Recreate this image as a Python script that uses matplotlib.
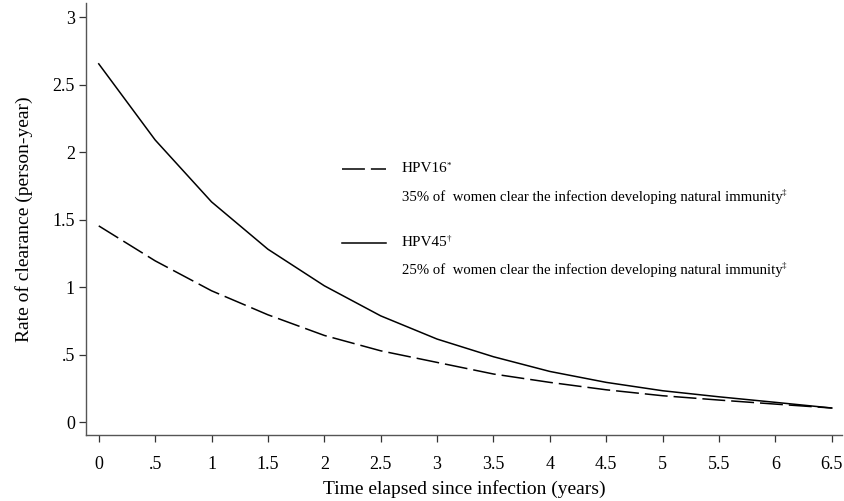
import matplotlib
matplotlib.use("Agg")
import matplotlib.pyplot as plt
from matplotlib.lines import Line2D

years = [0, 0.5, 1, 1.5, 2, 2.5, 3, 3.5, 4, 4.5, 5, 5.5, 6, 6.5]
hpv16 = [1.454, 1.195, 0.973, 0.795, 0.642, 0.528, 0.442, 0.356, 0.294, 0.239, 0.195, 0.163, 0.133, 0.104]
hpv45 = [2.655, 2.091, 1.632, 1.281, 1.010, 0.787, 0.615, 0.484, 0.375, 0.294, 0.232, 0.187, 0.146, 0.104]
xticks = [0, 0.5, 1, 1.5, 2, 2.5, 3, 3.5, 4, 4.5, 5, 5.5, 6, 6.5]
xticklabels = ["0", ".5", "1", "1.5", "2", "2.5", "3", "3.5", "4", "4.5", "5", "5.5", "6", "6.5"]
yticks = [0, 0.5, 1, 1.5, 2, 2.5, 3]
yticklabels = ["0", ".5", "1", "1.5", "2", "2.5", "3"]

plt.rcParams['font.family'] = ['Liberation Serif', 'DejaVu Serif']
plt.rcParams['lines.scale_dashes'] = False

W, H = 844, 501
fig = plt.figure(figsize=(W / 100, H / 100), dpi=100)
ax = fig.add_axes([86 / W, 1 - 435 / H, (842 - 86) / W, (435 - 3) / H])

ax.plot(years, hpv16, color='black', lw=1.1, dashes=(16.5, 4.3))
ax.plot(years, hpv45, color='black', lw=1.1)

ax.set_xlim(-0.113, 6.59)
ax.set_ylim(-0.096, 3.106)
ax.set_xticks(xticks)
ax.set_xticklabels(xticklabels)
ax.set_yticks(yticks)
ax.set_yticklabels(yticklabels)
for s in ['top', 'right']:
    ax.spines[s].set_visible(False)
for s in ['left', 'bottom']:
    ax.spines[s].set_color('#555555')
    ax.spines[s].set_linewidth(1.0)
ax.tick_params(axis='x', direction='out', length=5, width=0.9, color='#333333', labelsize=13, pad=10)
ax.tick_params(axis='y', direction='out', length=5, width=0.9, color='#333333', labelsize=13, pad=3)
ax.set_xlabel('Time elapsed since infection (years)', fontsize=14, labelpad=5)
ax.set_ylabel('Rate of clearance (person-year)', fontsize=14, labelpad=14)

def fx(px):
    return px / W

def fy(py):
    return 1 - py / H

fig.add_artist(Line2D([fx(342), fx(386)], [fy(169), fy(169)], color='black', lw=1.1, dashes=(16.5, 4.3)))
fig.add_artist(Line2D([fx(342), fx(386)], [fy(243), fy(243)], color='black', lw=1.1))

fig.canvas.draw()
renderer = fig.canvas.get_renderer()

def text_with_sup(x, y, main, sup, size, supsize):
    t = fig.text(fx(x), fy(y), main, fontsize=size, va='center', ha='left')
    bb = t.get_window_extent(renderer)
    fig.text((bb.x1 - 1) / W, (bb.y1 + 1) / H, sup, fontsize=supsize, va='top', ha='left')

text_with_sup(402, 169, 'HPV16', '*', 11, 6.5)
text_with_sup(402, 197, '35% of  women clear the infection developing natural immunity', '‡', 10.6, 6.5)
text_with_sup(402, 243, 'HPV45', '†', 11, 6.5)
text_with_sup(402, 270, '25% of  women clear the infection developing natural immunity', '‡', 10.6, 6.5)

fig.savefig('out.png', dpi=100)
